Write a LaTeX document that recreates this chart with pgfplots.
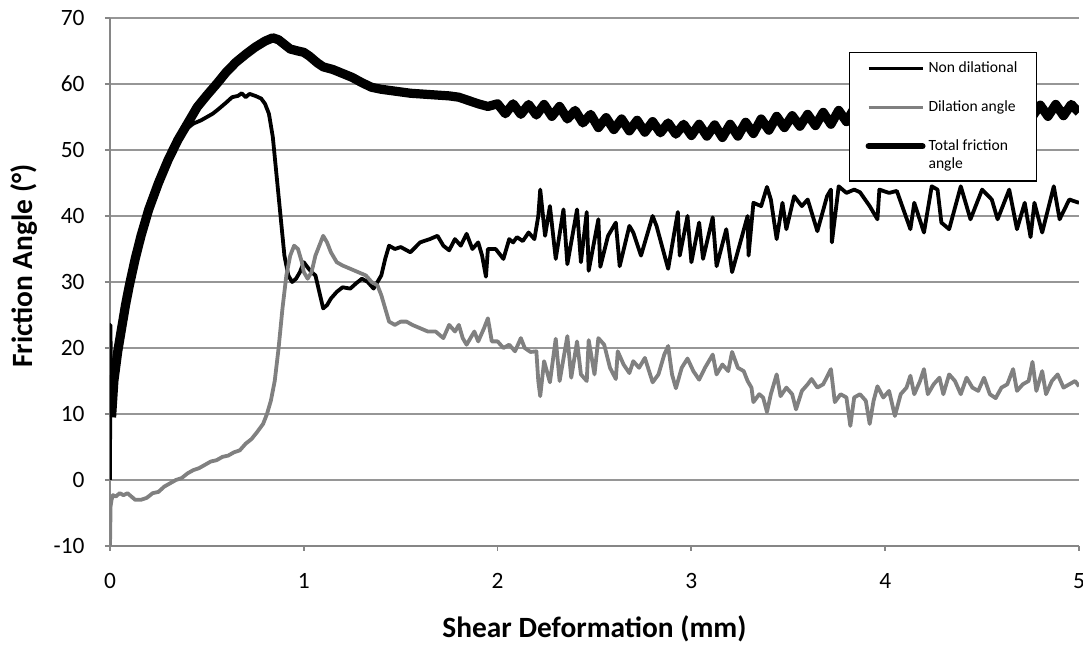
\documentclass[border=0pt]{standalone}
\usepackage{pgfplots}
\pgfplotsset{compat=1.18}
\usepackage{fontspec}
\setmainfont{Carlito}
\definecolor{axisgray}{RGB}{134,134,134}
\definecolor{gridgray}{RGB}{150,150,150}
\definecolor{dilgray}{RGB}{128,128,128}
\begin{document}
\begin{tikzpicture}
\useasboundingbox (-55pt,-50pt) rectangle (486.5pt,273pt);
\begin{axis}[
  at={(0,0)}, anchor=south west,
  scale only axis, width=484.5pt, height=264pt,
  xmin=0, xmax=5, ymin=-10, ymax=70,
  xtick={0,1,2,3,4,5}, ytick={-10,0,10,20,30,40,50,60,70},
  axis lines*=left,
  axis line style={draw=axisgray, line width=0.9pt},
  ymajorgrids, grid style={draw=gridgray, line width=0.9pt},
  tick align=outside, major tick length=2.5pt,
  tick style={draw=axisgray, line width=0.9pt},
  /pgf/number format/assume math mode=true,
  ticklabel style={font=\fontsize{11.7}{14}\selectfont},
  yticklabel style={anchor=east, inner sep=0pt, xshift=-10pt},
  xticklabel style={anchor=north, inner sep=0pt, yshift=-11pt},
  yticklabel={\pgfmathprintnumber[assume math mode=true]{\tick}},
  xlabel={Shear Deformation (mm)},
  ylabel={Friction Angle (°)},
  label style={font=\bfseries\fontsize{14.7}{17}\selectfont},
  xlabel style={at={(axis description cs:0.5,-0.1742)}, anchor=base},
  ylabel style={at={(axis description cs:-0.0888,0.53)}, anchor=center, rotate=0},
  legend cell align=left,
  legend style={at={(0.7626,0.9356)}, anchor=north west, draw=black, line width=0.6pt,
    fill=white, font=\fontsize{7.8}{9.4}\selectfont, inner xsep=8pt, inner ysep=3pt,
    row sep=9.5pt, nodes={inner sep=1.5pt, align=left}},
]
% Non dilational
\addplot[black, line width=1.9pt, line join=round,
  legend image code/.code={\draw[black, line width=1.6pt] (0pt,0pt) -- (27pt,0pt);}] coordinates {
(0,0)(0.002,23.5)(0.008,10)(0.02,15)(0.04,19.5)(0.06,23)(0.08,26.5)(0.10,29.5)(0.13,33.5)(0.16,37)(0.20,41)(0.25,45)(0.30,48.5)(0.35,51.2)(0.40,53.3)(0.43,54)(0.47,54.5)(0.50,55)(0.53,55.5)(0.56,56.2)(0.60,57.2)(0.63,58)(0.66,58.2)(0.68,58.6)(0.70,58)(0.72,58.5)(0.75,58.2)(0.78,57.8)(0.80,57)(0.82,55.5)(0.84,52)(0.86,46)(0.88,40)(0.90,34)(0.92,31)(0.94,30)(0.96,30.5)(0.98,31.5)(1.00,33)(1.02,32.2)(1.04,31.5)(1.06,31)(1.08,28.5)(1.10,26)(1.12,26.5)(1.14,27.5)(1.17,28.5)(1.20,29.2)(1.24,29)(1.27,29.8)(1.30,30.5)(1.33,30)(1.36,29)(1.38,30)(1.40,31)(1.42,33.5)(1.44,35.5)(1.47,35)(1.50,35.3)(1.55,34.5)(1.60,36)(1.65,36.5)(1.69,37)(1.72,35.5)(1.75,34.8)(1.78,36.5)(1.81,35.5)(1.84,37.3)(1.87,35)(1.90,36)(1.92,34)(1.94,30.8)(1.95,35)(1.99,35)(2.03,33.5)(2.06,36.5)(2.08,36)(2.10,36.8)(2.13,36.2)(2.16,37.5)(2.19,36.5)(2.21,40)(2.22,44)(2.245,37)(2.27,41.5)(2.30,33.5)(2.34,41)(2.36,32.7)(2.41,41)(2.43,33)(2.46,40.6)(2.47,31.7)(2.52,39.5)(2.53,32.3)(2.57,37)(2.61,39)(2.63,32.4)(2.68,38.5)(2.70,37.5)(2.74,34)(2.80,40)(2.82,38.5)(2.88,32)(2.93,40.6)(2.94,34)(2.98,40)(3.00,33)(3.04,39)(3.06,33.5)(3.11,39.8)(3.13,32.4)(3.18,38)(3.21,31.5)(3.29,40)(3.295,34)(3.32,42)(3.36,41.5)(3.39,44.4)(3.41,42.5)(3.44,36.5)(3.47,42)(3.49,38)(3.53,43)(3.57,41.5)(3.60,42.5)(3.65,37.7)(3.70,43)(3.72,44)(3.725,36)(3.76,44.5)(3.80,43.5)(3.84,44)(3.87,43.6)(3.92,41.5)(3.96,39.5)(3.97,44)(4.02,43.5)(4.06,43.8)(4.13,38)(4.15,42)(4.20,37.5)(4.24,44.5)(4.27,44)(4.29,39)(4.33,38)(4.39,44.5)(4.44,39.5)(4.50,44)(4.55,42.5)(4.58,39.5)(4.64,44)(4.68,38)(4.72,42)(4.75,36.8)(4.77,42)(4.81,37.5)(4.87,44.5)(4.90,39.5)(4.95,42.5)(5.0,42)
};
\addlegendentry{Non dilational}
% Dilation angle
\addplot[dilgray, line width=1.9pt, line join=round,
  legend image code/.code={\draw[dilgray, line width=1.6pt] (0pt,0pt) -- (27pt,0pt);}] coordinates {
(0,-10)(0.003,-4)(0.008,-3)(0.015,-2.3)(0.03,-2.5)(0.05,-2)(0.07,-2.3)(0.09,-2)(0.11,-2.5)(0.13,-3)(0.16,-3)(0.19,-2.7)(0.22,-2)(0.25,-1.8)(0.28,-1)(0.31,-0.5)(0.34,0)(0.37,0.3)(0.40,1)(0.43,1.5)(0.46,1.8)(0.49,2.3)(0.52,2.8)(0.55,3)(0.58,3.5)(0.61,3.7)(0.64,4.2)(0.67,4.5)(0.70,5.5)(0.73,6.2)(0.76,7.3)(0.79,8.5)(0.81,10)(0.83,12)(0.85,15)(0.87,20)(0.89,26)(0.91,31)(0.93,34)(0.95,35.5)(0.97,35)(0.99,33)(1.00,31.5)(1.02,30.5)(1.04,31.5)(1.06,34)(1.08,35.5)(1.10,37)(1.12,36)(1.14,34.5)(1.17,33)(1.20,32.5)(1.24,32)(1.28,31.5)(1.32,31)(1.35,30)(1.38,29.5)(1.40,28)(1.42,26)(1.44,24)(1.47,23.5)(1.50,24)(1.53,24)(1.56,23.5)(1.60,23)(1.64,22.5)(1.68,22.5)(1.72,21.5)(1.75,23.5)(1.78,22.5)(1.80,23.5)(1.82,21.5)(1.84,20.5)(1.88,22.5)(1.90,21)(1.93,23)(1.95,24.5)(1.97,21)(2.00,21)(2.03,20)(2.06,20.5)(2.09,19.5)(2.12,21.5)(2.14,20)(2.17,19.4)(2.20,19.5)(2.21,15)(2.22,12.7)(2.24,18)(2.27,14.8)(2.30,21.4)(2.32,15)(2.36,21.8)(2.38,15.5)(2.41,21)(2.43,16)(2.46,15)(2.47,21.2)(2.50,16)(2.52,21.5)(2.55,20.5)(2.58,17)(2.61,15.3)(2.62,19.5)(2.65,17.5)(2.68,16.2)(2.70,18)(2.73,17)(2.76,18.5)(2.80,14.8)(2.83,16)(2.86,19)(2.88,20.3)(2.90,16)(2.92,13.9)(2.95,17)(2.98,18.4)(3.01,16.5)(3.04,15.2)(3.07,17)(3.11,19)(3.13,16)(3.16,17.5)(3.19,16.5)(3.21,19.4)(3.24,17)(3.27,16.5)(3.29,15)(3.31,14)(3.32,11.8)(3.35,13)(3.37,12.5)(3.39,10.3)(3.41,13)(3.44,16)(3.46,12.7)(3.49,14)(3.52,13)(3.54,10.7)(3.57,13.5)(3.60,14.5)(3.62,15.3)(3.65,14)(3.68,14.5)(3.72,16.8)(3.74,11.8)(3.77,13)(3.80,12.5)(3.82,8.2)(3.84,12.5)(3.87,13)(3.90,12)(3.92,8.5)(3.94,12)(3.96,14.2)(3.99,12.5)(4.02,13.5)(4.05,9.7)(4.08,13)(4.11,14)(4.13,15.8)(4.15,13)(4.18,15)(4.20,16.8)(4.22,13)(4.25,14.5)(4.28,15.5)(4.30,13)(4.33,16)(4.36,15)(4.39,13)(4.42,15.5)(4.45,14)(4.48,13.5)(4.51,15.5)(4.54,13)(4.57,12.4)(4.60,14)(4.63,14.5)(4.66,16.8)(4.68,13.5)(4.71,14.5)(4.74,15)(4.76,17.9)(4.78,13.5)(4.81,16.5)(4.83,13)(4.86,15)(4.89,16)(4.92,14)(4.95,14.5)(4.98,15)(5.00,14.2)
};
\addlegendentry{Dilation angle}
% Total friction angle
\addplot[black, line width=4.6pt, line join=round,
  legend image code/.code={\draw[black, line width=3pt, line cap=round] (0pt,4.7pt) -- (27pt,4.7pt);}] coordinates {
(0.008,9.5)(0.02,15)(0.04,19.5)(0.06,23)(0.08,26.5)(0.10,29.5)(0.13,33.5)(0.16,37)(0.20,41)(0.25,45)(0.30,48.5)(0.35,51.5)(0.40,54)(0.45,56.5)(0.50,58.3)(0.55,60)(0.60,61.8)(0.65,63.3)(0.70,64.5)(0.75,65.6)(0.80,66.5)(0.84,67.0)(0.87,66.7)(0.90,66)(0.93,65.3)(0.97,65)(1.00,64.8)(1.03,64.2)(1.07,63.2)(1.10,62.6)(1.15,62.2)(1.20,61.6)(1.25,61)(1.30,60.2)(1.35,59.5)(1.40,59.2)(1.45,59)(1.50,58.8)(1.55,58.6)(1.60,58.5)(1.65,58.4)(1.70,58.3)(1.75,58.2)(1.80,58)(1.85,57.5)(1.90,57)(1.95,56.6)
(2.00,57.0)(2.04,55.5)(2.08,57.0)(2.12,55.4)(2.16,56.9)(2.20,55.3)(2.24,56.9)(2.28,55.1)(2.32,56.6)(2.36,54.7)(2.40,56.0)(2.44,54.1)(2.48,55.4)(2.52,53.4)(2.56,54.9)(2.60,53.1)(2.64,54.7)(2.68,52.9)(2.72,54.5)(2.76,52.7)(2.80,54.3)(2.84,52.6)(2.88,54.1)(2.92,52.4)(2.96,53.9)(3.00,52.2)(3.04,53.9)(3.08,52.1)(3.12,53.8)(3.16,51.9)(3.20,53.9)(3.24,52.1)(3.28,54.2)(3.32,52.5)(3.36,54.7)(3.40,53.0)(3.44,55.1)(3.48,53.4)(3.52,55.2)(3.56,53.6)(3.60,55.4)(3.64,53.7)(3.68,55.7)(3.72,53.9)(3.76,56.0)(3.80,54.3)(3.84,56.3)(3.88,54.6)(3.92,56.5)(3.96,54.8)(4.00,56.6)(4.04,54.9)(4.08,56.7)(4.12,55.0)(4.16,56.8)(4.20,55.1)(4.24,56.8)(4.28,55.1)(4.32,56.8)(4.36,55.1)(4.40,56.8)(4.44,55.1)(4.48,56.9)(4.52,55.2)(4.56,56.8)(4.60,55.1)(4.64,56.8)(4.68,55.1)(4.72,56.8)(4.76,55.1)(4.80,56.8)(4.84,55.1)(4.88,56.9)(4.92,55.2)(4.96,56.9)(5.00,55.7)
};
\addlegendentry{Total friction\\angle}
\end{axis}
\end{tikzpicture}
\end{document}
